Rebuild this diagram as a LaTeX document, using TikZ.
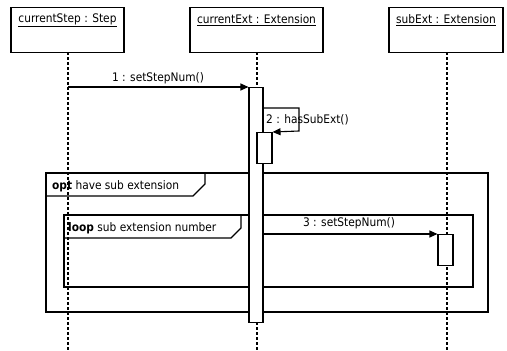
\documentclass[tikz,border=0pt]{standalone}
\usepackage{fontspec}
\setmainfont{DejaVu Sans Condensed}
\usetikzlibrary{arrows.meta}
\begin{document}
\begin{tikzpicture}[x=1pt,y=-1pt,
  font=\fontsize{11.8}{14}\selectfont,
  objbox/.style={draw,line width=1.1pt,minimum height=45pt,inner sep=0pt,anchor=north},
  lifeline/.style={line width=1.1pt,dash pattern=on 3pt off 2pt},
  actbar/.style={draw,fill=white,line width=1.1pt,minimum width=14pt,inner sep=0pt,anchor=north},
  msg/.style={line width=1.1pt,-{Triangle[length=8pt,width=7pt]}},
  frame/.style={draw,line width=1.1pt},
  lbl/.style={inner sep=0pt}]
\useasboundingbox (0,0) rectangle (507,351);

% object heads
\node[objbox,minimum width=113pt] (cs) at (67.5,7) {};
\node[objbox,minimum width=133pt] (ce) at (256.5,7) {};
\node[objbox,minimum width=114pt] (se) at (446,7) {};
\node[lbl] at (67.5,20) {\underline{currentStep : Step}};
\node[lbl] at (256.5,20) {\underline{currentExt : Extension}};
\node[lbl] at (446,20) {\underline{subExt : Extension}};

% lifelines
\coordinate (csEnd) at (68,351);
\coordinate (ceEnd) at (257,351);
\coordinate (seEnd) at (447,351);
\draw[lifeline] (68,52) -- (csEnd);
\draw[lifeline] (257,52) -- (ceEnd);
\draw[lifeline] (447,52) -- (seEnd);

% combined fragments
\draw[frame] (46,173) rectangle (488,312);
\draw[frame] (46,196) -- (193,196) -- (205,184) -- (205,173);
\node[lbl,anchor=west] at (52,186) {\textbf{opt} have sub extension};
\draw[frame] (64,215) rectangle (473,287);
\draw[frame] (64,238) -- (231,238) -- (241,228) -- (241,215);
\node[lbl,anchor=west] at (68,228) {\textbf{loop} sub extension number};

% activations
\node[actbar,minimum height=235pt] (a1) at (256,87) {};
\node[actbar,minimum width=15pt,minimum height=31pt] (a2) at (264.5,132) {};
\node[actbar,minimum width=15pt,minimum height=31pt] (a3) at (445.5,234) {};

% messages
\coordinate (m1s) at (68,87);
\draw[msg] (m1s) -- (a1.north west);
\node[lbl] at (158,78) {1 : setStepNum()};

\coordinate (m2a) at (263,108);
\coordinate (m2b) at (299,108);
\coordinate (m2c) at (299,131);
\draw[msg] (m2a) -- (m2b) -- (m2c) -- (a2.north east);
\node[lbl,anchor=west] at (266,120) {2 : hasSubExt()};

\coordinate (m3s) at (263,234);
\draw[msg] (m3s) -- (a3.north west);
\node[lbl] at (349,223) {3 : setStepNum()};
\end{tikzpicture}
\end{document}
